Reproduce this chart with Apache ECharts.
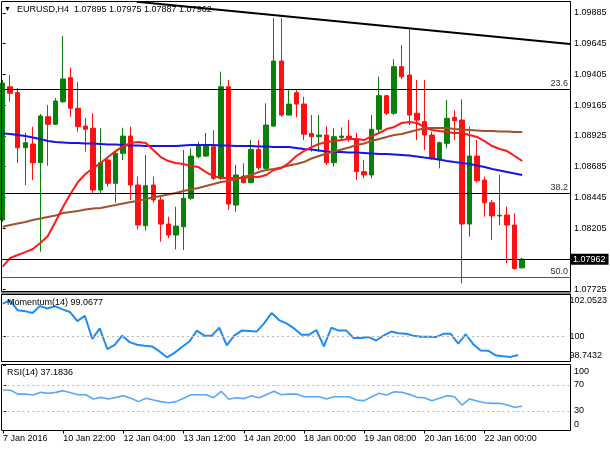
<!DOCTYPE html>
<html><head><meta charset="utf-8">
<script src="https://cdn.jsdelivr.net/npm/echarts@6/dist/echarts.min.js"></script>
<style>html,body{margin:0;padding:0;background:#fff}#c{width:610px;height:450px}</style>
</head><body><div id="c"></div>
<script>
const symbolName = 'EURUSD,H4';
const timeLabels = ['7 Jan 2016','10 Jan 22:00','12 Jan 04:00','13 Jan 12:00','14 Jan 20:00','18 Jan 00:00','19 Jan 08:00','20 Jan 16:00','22 Jan 00:00'];
const timeLabelBars = [0,8,16,24,32,40,48,56,64];

const opens = [1.08268,1.09309,1.09263,1.08833,1.08862,1.08716,1.09075,1.09016,1.09192,1.09380,
1.09141,1.09002,1.08985,1.08503,1.08737,1.08555,1.08789,1.08924,1.08542,1.08224,
1.08542,1.08425,1.08237,1.08151,1.08216,1.08438,1.08763,1.08768,1.08841,1.08594,
1.09309,1.08385,1.08612,1.08560,1.08820,1.08672,1.09002,1.09510,1.09088,1.09263,
1.09174,1.08945,1.08919,1.08932,1.08716,1.08914,1.08924,1.08899,1.08646,1.08620,
1.08977,1.09239,1.09102,1.09466,1.09401,1.09102,1.09036,1.08932,1.08737,1.08867,
1.09070,1.09049,1.08237,1.08768,1.08581,1.08403,1.08300,1.08307,1.08229,1.07895];
const highs = [1.09362,1.09401,1.09299,1.08948,1.08997,1.09096,1.09166,1.09221,1.09705,1.09458,
1.09344,1.09067,1.09102,1.08985,1.08752,1.08802,1.08989,1.08997,1.08607,1.08776,
1.08607,1.08450,1.08294,1.08372,1.08815,1.08828,1.08880,1.08948,1.08971,1.09427,
1.09362,1.08698,1.08711,1.08893,1.08893,1.09180,1.09844,1.09844,1.09284,1.09289,
1.09231,1.09088,1.09088,1.09002,1.08985,1.08992,1.09049,1.08950,1.08737,1.09088,
1.09388,1.09245,1.09523,1.09635,1.09758,1.09362,1.09362,1.08958,1.08880,1.09206,
1.09127,1.09211,1.08997,1.08893,1.08607,1.08425,1.08620,1.08372,1.08321,1.07975];
const lows = [1.08253,1.09192,1.08714,1.08542,1.08581,1.08021,1.08692,1.09010,1.09182,1.09075,
1.08958,1.08802,1.08477,1.08477,1.08528,1.08403,1.08737,1.08425,1.08196,1.08185,
1.08403,1.08099,1.08125,1.08039,1.08034,1.08425,1.08750,1.08760,1.08581,1.08581,
1.08346,1.08333,1.08555,1.08555,1.08659,1.08659,1.08997,1.09075,1.09084,1.09070,
1.08893,1.08802,1.08802,1.08698,1.08685,1.08893,1.08880,1.08581,1.08594,1.08594,
1.08945,1.09088,1.09088,1.09367,1.09010,1.08893,1.08815,1.08737,1.08672,1.08828,
1.08893,1.07774,1.08138,1.08560,1.08294,1.08112,1.08229,1.07930,1.07878,1.07887];
const closes = [1.09338,1.09258,1.08833,1.08872,1.08716,1.09081,1.09016,1.09198,1.09370,1.09141,
1.08997,1.08977,1.08503,1.08716,1.08555,1.08789,1.08924,1.08542,1.08229,1.08536,
1.08425,1.08237,1.08151,1.08221,1.08438,1.08768,1.08854,1.08854,1.08594,1.09309,
1.08393,1.08620,1.08560,1.08820,1.08677,1.09010,1.09510,1.09088,1.09174,1.09174,
1.08938,1.08919,1.08932,1.08716,1.08919,1.08924,1.08899,1.08646,1.08620,1.08977,
1.09239,1.09102,1.09466,1.09388,1.09088,1.09049,1.08932,1.08750,1.08872,1.09063,
1.09044,1.08237,1.08768,1.08575,1.08403,1.08300,1.08305,1.08229,1.07890,1.07962];

const maRed = [1.07904,1.07972,1.07995,1.08018,1.08042,1.08089,1.08143,1.08253,1.08370,1.08471,
1.08565,1.08628,1.08674,1.08714,1.08760,1.08807,1.08846,1.08870,1.08878,1.08870,
1.08815,1.08760,1.08729,1.08714,1.08706,1.08690,1.08682,1.08643,1.08612,1.08596,
1.08596,1.08596,1.08596,1.08604,1.08604,1.08620,1.08659,1.08674,1.08714,1.08768,
1.08807,1.08838,1.08862,1.08878,1.08885,1.08893,1.08901,1.08901,1.08893,1.08924,
1.08948,1.08979,1.08995,1.09026,1.09034,1.09026,1.08995,1.08971,1.08963,1.08956,
1.08948,1.08948,1.08932,1.08917,1.08885,1.08846,1.08823,1.08807,1.08768,1.08729];
const maBrown = [1.08216,1.08229,1.08241,1.08253,1.08268,1.08280,1.08292,1.08303,1.08323,1.08331,
1.08339,1.08350,1.08358,1.08362,1.08374,1.08385,1.08397,1.08409,1.08417,1.08432,
1.08444,1.08456,1.08467,1.08479,1.08495,1.08507,1.08518,1.08534,1.08549,1.08565,
1.08573,1.08589,1.08604,1.08620,1.08643,1.08659,1.08667,1.08678,1.08694,1.08706,
1.08721,1.08749,1.08768,1.08788,1.08803,1.08819,1.08835,1.08854,1.08866,1.08885,
1.08901,1.08917,1.08932,1.08940,1.08956,1.08971,1.08983,1.08987,1.08987,1.08987,
1.08979,1.08975,1.08971,1.08967,1.08963,1.08963,1.08960,1.08960,1.08956,1.08956];
const maBlue = [1.08945,1.08940,1.08932,1.08924,1.08913,1.08901,1.08885,1.08878,1.08874,1.08870,
1.08870,1.08866,1.08866,1.08862,1.08858,1.08858,1.08854,1.08850,1.08850,1.08846,
1.08846,1.08846,1.08846,1.08846,1.08850,1.08854,1.08854,1.08854,1.08854,1.08850,
1.08850,1.08846,1.08846,1.08846,1.08842,1.08842,1.08838,1.08838,1.08838,1.08831,
1.08823,1.08819,1.08811,1.08803,1.08799,1.08799,1.08795,1.08795,1.08792,1.08788,
1.08784,1.08784,1.08780,1.08776,1.08772,1.08764,1.08756,1.08749,1.08741,1.08729,
1.08721,1.08714,1.08706,1.08694,1.08682,1.08667,1.08655,1.08643,1.08631,1.08620];

const momentum = [101.60,101.76,101.27,101.23,101.14,101.48,101.36,101.48,101.32,101.19,
100.74,101.00,99.86,100.38,99.36,99.57,100.02,99.70,99.57,99.52,
99.49,99.24,98.95,99.17,99.46,99.73,100.27,100.02,100.02,100.41,
99.54,100.02,100.27,100.25,100.22,100.63,101.14,100.79,100.63,100.38,
100.06,100.06,100.30,99.49,100.41,100.27,100.27,99.90,99.90,99.95,
99.78,100.02,100.22,100.14,100.11,100.02,99.97,99.97,99.95,100.11,
100.11,99.62,100.09,99.60,99.29,99.28,99.05,99.00,98.97,99.0677];
const rsi = [62.3,62,56,56,54.6,58.7,57.2,58.7,61.3,58.2,
55.1,55.1,48.5,51,48.5,51,53.6,49.5,44.4,49.5,
46.9,44.4,42.8,44.4,49.5,55.1,55.1,55.1,50.5,60.3,
48,50.5,49,53.6,50.5,55.1,60.3,55.1,56,56,
52,52,52,48.5,52,52,52,46.9,45.9,52,
57.2,54.6,59.7,58.7,55.6,51,50.5,45.9,49.5,53.6,
52,39.2,48.5,45.4,42.8,41.8,41.8,39.2,35.7,37.1836];

const priceTicks = [1.09885,1.09645,1.09405,1.09165,1.08925,1.08685,1.08445,1.08205,1.07725];
const momentumTicks = [102.0523,100,98.7432];
const rsiTicks = [100,70,30,0];
const rsiLevels = [70,30];
const momentumLevel = 100;
const fibLevels = [{name:'23.6',value:1.09291},{name:'38.2',value:1.08479},{name:'50.0',value:1.07823}];
const trendLine = [[17.8,1.09973],[75.35,1.09643]];
const priceRange = [1.07714,1.09971];
const momentumRange = [98.7432,102.0523];
const rsiRange = [0,100];
const barRange = [-0.09,75.35];

const N = opens.length;
const last = N - 1;
const candleData = opens.map((o,i)=>[i,o,closes[i],lows[i],highs[i]]);
const pair = arr => arr.map((v,i)=>[i,v]);
const FONT = 'Liberation Sans, Arial, sans-serif';
const txt = {fontFamily: FONT, fontSize: 9, color: '#000'};

function xAxisFor(g, show){
  return {type:'value', gridIndex:g, min:barRange[0], max:barRange[1],
    axisLine:{show:false}, splitLine:{show:false},
    axisTick:{show:show, length:3, customValues:timeLabelBars, lineStyle:{color:'#000'}},
    axisLabel:{show:show, customValues:timeLabelBars, align:'left', margin:4,
      formatter:v=>{const k=timeLabelBars.indexOf(Math.round(v)); return k>=0?timeLabels[k]:'';}, ...txt}};
}
function edgeRich(){
  return {
    t:{fontFamily:FONT,fontSize:9,color:'#000',padding:[12,0,0,0]},
    b:{fontFamily:FONT,fontSize:9,color:'#000',padding:[0,0,12,0]},
    n:{fontFamily:FONT,fontSize:9,color:'#000'}
  };
}
function yAxisFor(g, range, ticks, fmt){
  return {type:'value', gridIndex:g, position:'right', min:range[0], max:range[1], scale:true,
    axisLine:{show:false}, splitLine:{show:false},
    axisTick:{show:true, length:3, customValues:ticks, lineStyle:{color:'#000'}},
    axisLabel:{customValues:ticks, margin:4, formatter:fmt, rich:edgeRich(), ...txt}};
}
const edgeFmt = (range, dec) => v => {
  const s = dec==null ? String(v) : v.toFixed(dec);
  if (Math.abs(v-range[1])<1e-9) return '{t|'+s+'}';
  if (Math.abs(v-range[0])<1e-9) return '{b|'+s+'}';
  return '{n|'+s+'}';
};

const hline = (v, color) => ({yAxis:v, lineStyle:{color:color, width:1, type:[2,3]}, label:{show:false}});

const option = {
  animation:false,
  backgroundColor:'#fff',
  grid:[
    {left:2, width:568, top:2, height:289},
    {left:2, width:568, top:294.5, height:67},
    {left:2, width:568, top:365.5, height:65}
  ],
  xAxis:[xAxisFor(0,false), xAxisFor(1,false), xAxisFor(2,true)],
  yAxis:[
    yAxisFor(0, priceRange, priceTicks, v=>'{n|'+v.toFixed(5)+'}'),
    yAxisFor(1, momentumRange, momentumTicks, edgeFmt(momentumRange)),
    yAxisFor(2, rsiRange, rsiTicks, edgeFmt(rsiRange))
  ],
  series:[
    {type:'candlestick', xAxisIndex:0, yAxisIndex:0, data:candleData, encode:{x:0,y:[1,2,3,4]},
      barWidth:5, clip:true,
      itemStyle:{color:'#0a7f0a', color0:'#ff1010', borderColor:'#0a7f0a', borderColor0:'#ff1010', borderWidth:1}},
    {type:'line', xAxisIndex:0, yAxisIndex:0, data:pair(maBlue), symbol:'none', z:3, lineStyle:{color:'#1515e8', width:2}},
    {type:'line', xAxisIndex:0, yAxisIndex:0, data:pair(maBrown), symbol:'none', z:3, lineStyle:{color:'#a0522d', width:2}},
    {type:'line', xAxisIndex:0, yAxisIndex:0, data:pair(maRed), symbol:'none', z:4, lineStyle:{color:'#ff1a1a', width:2}},
    {type:'line', xAxisIndex:0, yAxisIndex:0, data:trendLine, symbol:'none', z:4, lineStyle:{color:'#000', width:2},
      markLine:{silent:true, symbol:'none', animation:false, precision:5,
        data:[
          ...fibLevels.map((f,i)=>({yAxis:f.value, name:f.name,
            lineStyle:{color: i===2?'#555':'#000', width:1, type:'solid'},
            label:{show:true, position:'insideEndTop', formatter:f.name, distance:[2,1], fontFamily:FONT, fontSize:9, color:'#333'}})),
          {yAxis:closes[last], lineStyle:{color:'#000', width:1, type:'solid'},
            label:{show:true, position:'end', distance:1, formatter:closes[last].toFixed(5),
              backgroundColor:'#000', color:'#fff', padding:[1,3,1,2], fontFamily:FONT, fontSize:9}}
        ]}},
    {type:'line', xAxisIndex:1, yAxisIndex:1, data:pair(momentum), symbol:'none', lineStyle:{color:'#1e8cf0', width:2},
      markLine:{silent:true, symbol:'none', precision:4, data:[hline(momentumLevel,'#b5b5b5')]}},
    {type:'line', xAxisIndex:2, yAxisIndex:2, data:pair(rsi), symbol:'none', lineStyle:{color:'#5aa8f5', width:1.6},
      markLine:{silent:true, symbol:'none', precision:4, data:rsiLevels.map(v=>hline(v,'#b5b5b5'))}}
  ],
  graphic:[
    {type:'rect', shape:{x:1.5,y:1.5,width:569,height:290}, style:{fill:'none', stroke:'#000', lineWidth:1}, z:100, silent:true},
    {type:'rect', shape:{x:1,y:292,width:570,height:2}, style:{fill:'#8a8a8a'}, z:100, silent:true},
    {type:'rect', shape:{x:1.5,y:294.5,width:569,height:67}, style:{fill:'none', stroke:'#000', lineWidth:1}, z:100, silent:true},
    {type:'rect', shape:{x:1.5,y:364.5,width:569,height:66}, style:{fill:'none', stroke:'#000', lineWidth:1}, z:100, silent:true},
    {type:'text', left:4, top:6, style:{text:'▼', fontSize:7, fill:'#000', fontFamily:FONT}, z:101},
    {type:'text', left:17, top:5, style:{text:symbolName+'  '+[opens[last],highs[last],lows[last],closes[last]].map(v=>v.toFixed(5)).join(' '), fontSize:9, fill:'#000', fontFamily:FONT}, z:101},
    {type:'text', left:7, top:298, style:{text:'Momentum(14) '+momentum[last].toFixed(4), fontSize:9, fill:'#000', fontFamily:FONT}, z:101},
    {type:'text', left:7, top:368, style:{text:'RSI(14) '+rsi[last].toFixed(4), fontSize:9, fill:'#000', fontFamily:FONT}, z:101}
  ]
};
const chart = echarts.init(document.getElementById('c'), null, {renderer:'canvas'});
chart.setOption(option);
</script></body></html>
